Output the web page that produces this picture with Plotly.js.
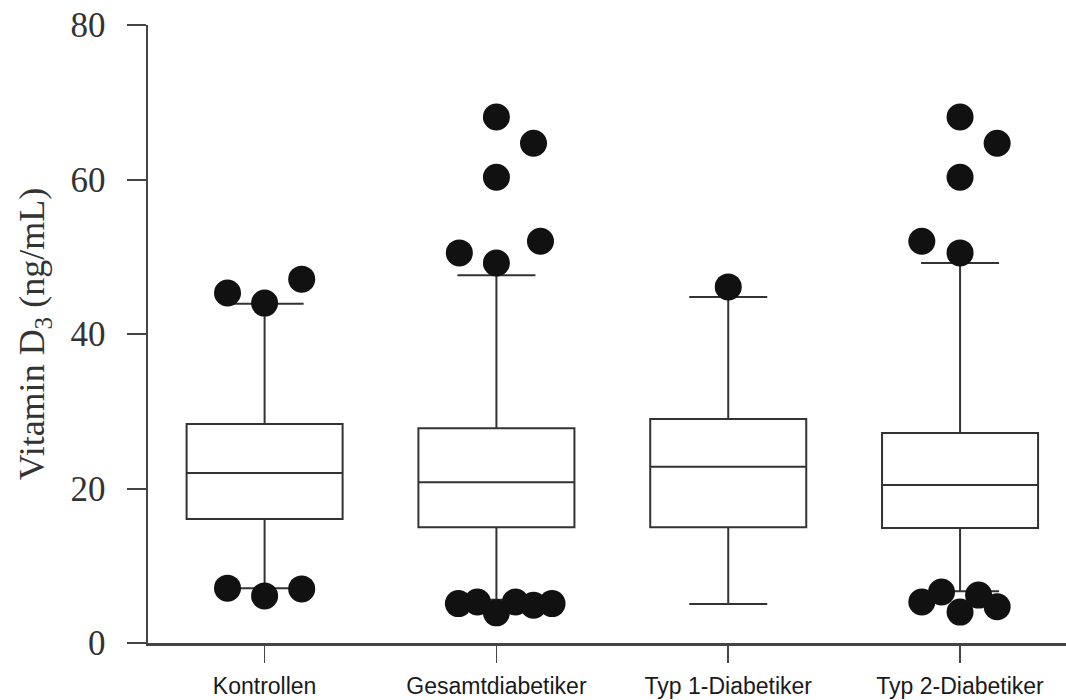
<!DOCTYPE html>
<html>
<head>
<meta charset="utf-8">
<script src="https://cdn.plot.ly/plotly-3.0.1.min.js"></script>
<style>
  html, body { margin: 0; padding: 0; background: #fff; }
  #chart { width: 1066px; height: 700px; }
</style>
</head>
<body>
<div id="chart"></div>
<script>
// Groups on the x axis
const groups = ['Kontrollen', 'Gesamtdiabetiker', 'Typ 1-Diabetiker', 'Typ 2-Diabetiker'];

// Box summary statistics, vitamin D3 in ng/mL
const lowerWhisker = [7.1, 5.6, 5.05, 6.7];
const q1 = [16.05, 15.0, 15.0, 14.9];
const medians = [22.0, 20.8, 22.8, 20.45];
const q3 = [28.35, 27.8, 29.0, 27.2];
const upperWhisker = [43.9, 47.6, 44.8, 49.2];

// Individual outliers: group index, value and horizontal spread inside the group
const outlierGroup = [
  0, 0, 0, 0, 0, 0,
  1, 1, 1, 1, 1, 1, 1, 1, 1, 1, 1, 1,
  2,
  3, 3, 3, 3, 3, 3, 3, 3, 3, 3
];
const outlierValue = [
  45.3, 44.0, 47.1, 7.1, 6.1, 7.0,
  68.1, 64.7, 60.3, 52.0, 50.5, 49.2, 5.1, 5.3, 3.9, 5.3, 4.9, 5.1,
  46.1,
  68.1, 64.7, 60.3, 52.0, 50.5, 5.3, 6.6, 4.0, 6.2, 4.7
];
const outlierSpread = [
  -0.16, 0, 0.16, -0.16, 0, 0.16,
  0, 0.16, 0, 0.19, -0.16, 0, -0.164, -0.082, 0, 0.082, 0.16, 0.24,
  0,
  0, 0.16, 0, -0.165, 0, -0.165, -0.08, 0, 0.08, 0.16
];

const boxLine = '#333333';
const traces = groups.map((g, i) => ({
  type: 'box',
  x: [i],
  q1: [q1[i]],
  median: [medians[i]],
  q3: [q3[i]],
  lowerfence: [lowerWhisker[i]],
  upperfence: [upperWhisker[i]],
  boxpoints: false,
  width: 0.673,
  whiskerwidth: 0.5,
  fillcolor: '#ffffff',
  line: { color: boxLine, width: 2 },
  showlegend: false,
  hoverinfo: 'skip'
}));

traces.push({
  type: 'scatter',
  mode: 'markers',
  x: outlierGroup.map((g, k) => g + outlierSpread[k]),
  y: outlierValue,
  marker: { size: 27, color: '#111111', line: { width: 0 } },
  cliponaxis: false,
  showlegend: false,
  hoverinfo: 'y'
});

const layout = {
  width: 1066,
  height: 700,
  margin: { l: 148, r: 0, t: 25, b: 57 },
  paper_bgcolor: '#ffffff',
  plot_bgcolor: '#ffffff',
  showlegend: false,
  xaxis: {
    type: 'linear',
    range: [-0.503, 3.457],
    tickmode: 'array',
    tickvals: groups.map((g, i) => i),
    ticktext: groups,
    ticks: 'outside',
    ticklen: 17,
    tickwidth: 1.5,
    tickcolor: '#444444',
    ticklabelstandoff: 4,
    showgrid: false,
    zeroline: false,
    showline: true,
    linecolor: '#444444',
    linewidth: 2.5,
    tickfont: { family: 'Liberation Sans, Arial, sans-serif', size: 23, color: '#1a1a1a' }
  },
  yaxis: {
    range: [0, 80],
    tickvals: [0, 20, 40, 60, 80],
    ticks: 'outside',
    ticklen: 19,
    tickwidth: 2,
    tickcolor: '#444444',
    ticklabelstandoff: 14,
    showgrid: false,
    zeroline: false,
    showline: true,
    linecolor: '#444444',
    linewidth: 2.5,
    tickfont: { family: 'Liberation Serif, Times New Roman, serif', size: 35, color: '#333333' },
    title: {
      text: 'Vitamin D<sub>3</sub> (ng/mL)',
      font: { family: 'Liberation Serif, Times New Roman, serif', size: 36, color: '#333333' },
      standoff: 15
    }
  }
};

Plotly.newPlot('chart', traces, layout, { displayModeBar: false, staticPlot: true });
</script>
</body>
</html>
